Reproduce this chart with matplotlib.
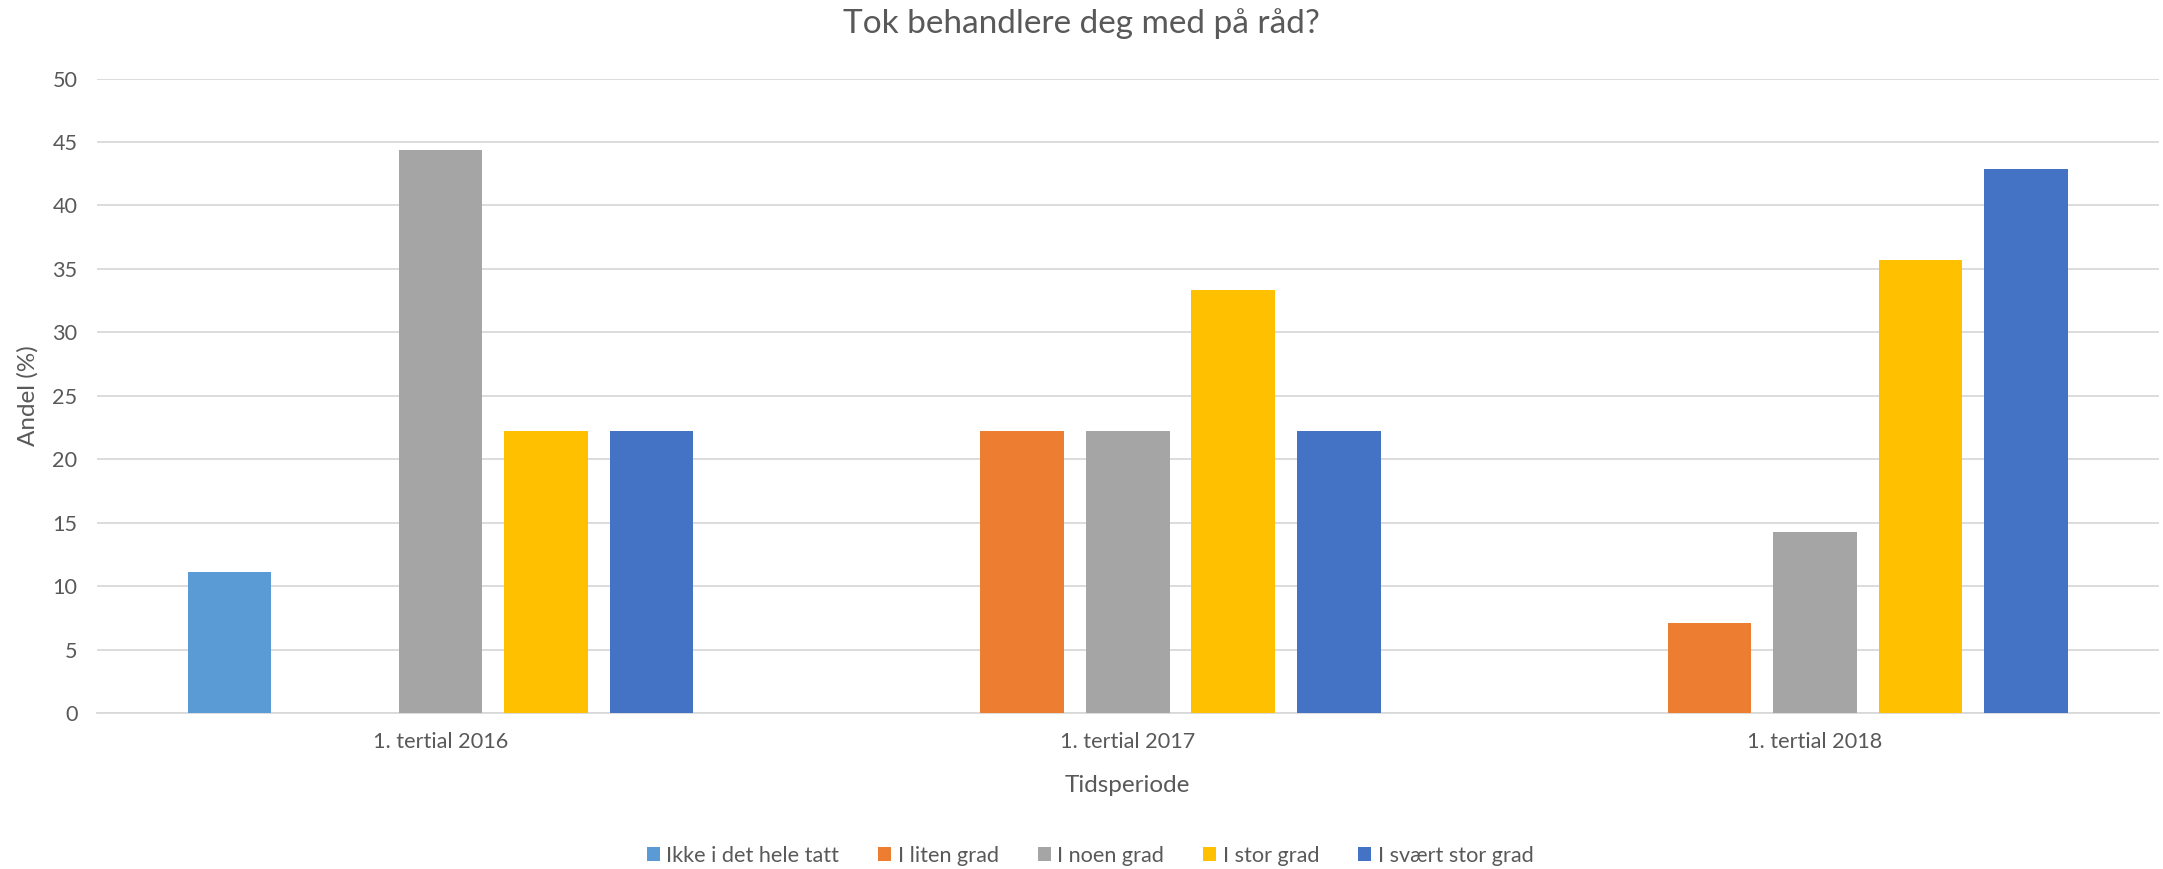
import numpy as np
import matplotlib.pyplot as plt

plt.rcParams['font.family'] = ['Lato', 'DejaVu Sans']

categories = ["1. tertial 2016", "1. tertial 2017", "1. tertial 2018"]
series = ["Ikke i det hele tatt", "I liten grad", "I noen grad", "I stor grad", "I svært stor grad"]
values = [
    [11.1, 0, 0],
    [0, 22.2, 7.1],
    [44.4, 22.2, 14.3],
    [22.2, 33.3, 35.7],
    [22.2, 22.2, 42.9],
]
colors = ["#5B9BD5", "#ED7D31", "#A5A5A5", "#FFC000", "#4472C4"]
yticks = [0, 5, 10, 15, 20, 25, 30, 35, 40, 45, 50]

txt = "#595959"
fig = plt.figure(figsize=(21.63, 8.69), dpi=100)
ax = fig.add_axes([0.0448, 0.1795, 0.9532, 0.7301])

x = np.arange(len(categories))
pitch = 0.1535
width = 0.122
for i, (name, vals) in enumerate(zip(series, values)):
    ax.bar(x + (i - 2) * pitch, vals, width, color=colors[i], label=name,
           linewidth=0, zorder=3)

ax.set_xlim(-0.5, len(categories) - 0.5)
ax.set_ylim(0, 50)
ax.set_yticks(yticks)
ax.set_xticks(x)
ax.set_xticklabels(categories)
ax.grid(axis="y", color="#D9D9D9", linewidth=1.3, zorder=0)
for s in ["top", "right", "left"]:
    ax.spines[s].set_visible(False)
ax.spines["bottom"].set_color("#D9D9D9")
ax.spines["bottom"].set_linewidth(1.3)
ax.tick_params(length=0, labelsize=15.6, colors=txt)
ax.tick_params(axis="x", pad=14)
ax.tick_params(axis="y", pad=14)

ax.set_xlabel("Tidsperiode", fontsize=17.5, color=txt, labelpad=16)
ax.set_ylabel("Andel (%)", fontsize=17.5, color=txt, labelpad=10)
fig.text(0.5, 0.973, "Tok behandlere deg med på råd?", ha="center", va="center",
         fontsize=24, color=txt)

fig.legend(loc="center", bbox_to_anchor=(0.504, 0.015), ncol=5, frameon=False,
           fontsize=15.6, handlelength=0.6, handleheight=0.6, handletextpad=0.3,
           columnspacing=1.8, labelcolor=txt)

fig.savefig("out.png", dpi=100)
